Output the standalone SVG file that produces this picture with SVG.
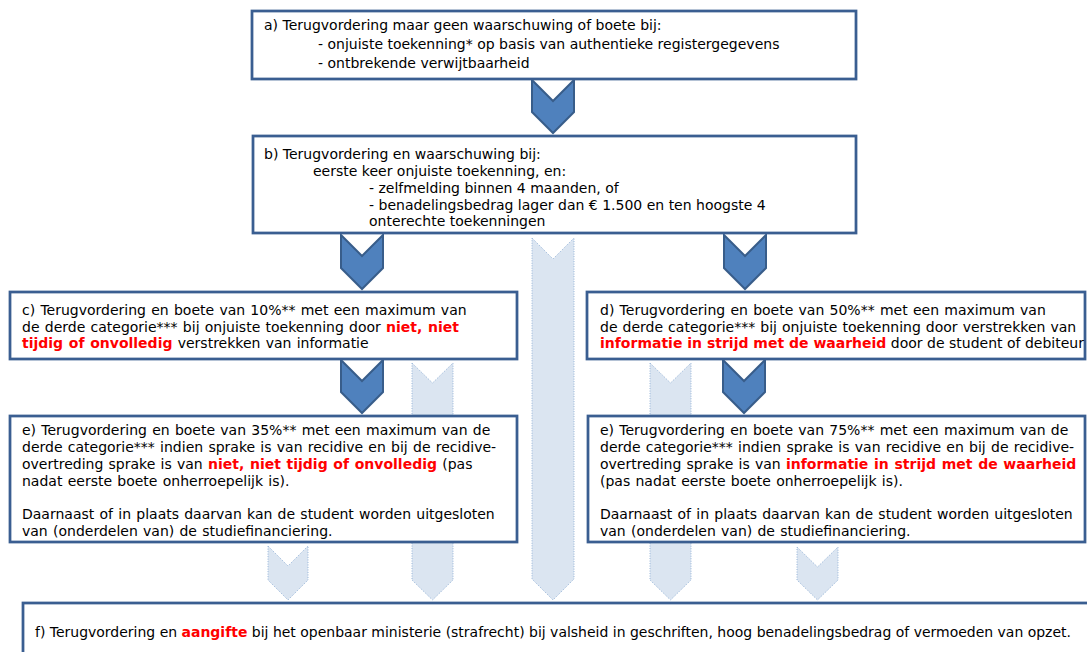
<svg xmlns="http://www.w3.org/2000/svg" width="1087" height="652" viewBox="0 0 1087 652">
<style>
.box{fill:#ffffff;stroke:#3a5e91;stroke-width:2.75}
.dk{fill:#4f81bd;stroke:#385d8a;stroke-width:2;stroke-linejoin:miter}
.lt{fill:#dbe5f1;stroke:#95b3d7;stroke-width:1;stroke-dasharray:1 1.5}
text{font-family:"DejaVu Sans","Verdana",sans-serif;font-size:14px;fill:#000000}
.w{word-spacing:0.8px}
.r{fill:#ff0000;font-weight:bold}
</style>
<rect width="1087" height="652" fill="#ffffff"/>
<g id="connectors">
<polygon class="lt" points="532,238 553,259 574,238 574,579 553,600 532,579"/>
<polygon class="lt" points="412,363 432.5,383 453,363 453,580 432.5,600 412,580"/>
<polygon class="lt" points="650,363 670.5,383 691,363 691,580 670.5,600 650,580"/>
<polygon class="lt" points="268,546 288,566 308,546 308,580 288,600 268,580"/>
<polygon class="lt" points="797,547 817.5,567 838,547 838,580 817.5,600 797,580"/>
<polygon class="dk" points="532,80 553,101 574,80 574,112 553,133 532,112"/>
<polygon class="dk" points="341,235 362,256 383,235 383,268 362,289 341,268"/>
<polygon class="dk" points="724,235 745,256 766,235 766,268 745,289 724,268"/>
<polygon class="dk" points="341,360 362,381 383,360 383,392 362,413 341,392"/>
<polygon class="dk" points="723,360 744,381 765,360 765,392 744,413 723,392"/>
</g>
<g id="node-a">
<rect class="box" x="252" y="11" width="604" height="68"/>
<text x="264" y="30">a) Terugvordering maar geen waarschuwing of boete bij:</text>
<text x="318" y="49">- onjuiste toekenning* op basis van authentieke registergegevens</text>
<text x="318" y="68">- ontbrekende verwijtbaarheid</text>
</g>
<g id="node-b">
<rect class="box" x="253" y="136" width="603" height="97"/>
<text x="264" y="159">b) Terugvordering en waarschuwing bij:</text>
<text x="313" y="176">eerste keer onjuiste toekenning, en:</text>
<text x="369" y="193">- zelfmelding binnen 4 maanden, of</text>
<text x="369" y="210">- benadelingsbedrag lager dan € 1.500 en ten hoogste 4</text>
<text x="369" y="226">onterechte toekenningen</text>
</g>
<g id="node-c">
<rect class="box" x="10" y="292" width="507" height="67"/>
<text class="w" x="22" y="315">c) Terugvordering en boete van 10%** met een maximum van</text>
<text class="w" x="22" y="332">de derde categorie*** bij onjuiste toekenning door <tspan class="r">niet, niet</tspan></text>
<text class="w" x="22" y="348"><tspan class="r">tijdig of onvolledig</tspan> verstrekken van informatie</text>
</g>
<g id="node-d">
<rect class="box" x="587" y="292" width="498" height="67"/>
<text class="w" x="600" y="315">d) Terugvordering en boete van 50%** met een maximum van</text>
<text x="600" y="332" word-spacing="0.6">de derde categorie*** bij onjuiste toekenning door verstrekken van</text>
<text x="600" y="348"><tspan class="r">informatie in strijd met de waarheid</tspan> door de student of debiteur</text>
</g>
<g id="node-e1">
<rect class="box" x="10" y="416" width="507" height="126"/>
<text class="w" x="22" y="435">e) Terugvordering en boete van 35%** met een maximum van de</text>
<text class="w" x="22" y="452">derde categorie*** indien sprake is van recidive en bij de recidive-</text>
<text class="w" x="22" y="469">overtreding sprake is van <tspan class="r">niet, niet tijdig of onvolledig</tspan> (pas</text>
<text class="w" x="22" y="486">nadat eerste boete onherroepelijk is).</text>
<text class="w" x="22" y="519">Daarnaast of in plaats daarvan kan de student worden uitgesloten</text>
<text class="w" x="22" y="536">van (onderdelen van) de studiefinanciering.</text>
</g>
<g id="node-e2">
<rect class="box" x="588" y="416" width="497" height="126"/>
<text class="w" x="600" y="435">e) Terugvordering en boete van 75%** met een maximum van de</text>
<text class="w" x="600" y="452">derde categorie*** indien sprake is van recidive en bij de recidive-</text>
<text class="w" x="600" y="469">overtreding sprake is van <tspan class="r">informatie in strijd met de waarheid</tspan></text>
<text class="w" x="600" y="486">(pas nadat eerste boete onherroepelijk is).</text>
<text class="w" x="600" y="519">Daarnaast of in plaats daarvan kan de student worden uitgesloten</text>
<text class="w" x="600" y="536">van (onderdelen van) de studiefinanciering.</text>
</g>
<g id="node-f">
<rect class="box" x="23" y="603" width="1080" height="70"/>
<text x="35" y="637" textLength="1036" lengthAdjust="spacingAndGlyphs">f) Terugvordering en <tspan class="r">aangifte</tspan> bij het openbaar ministerie (strafrecht) bij valsheid in geschriften, hoog benadelingsbedrag of vermoeden van opzet.</text>
</g>
</svg>
